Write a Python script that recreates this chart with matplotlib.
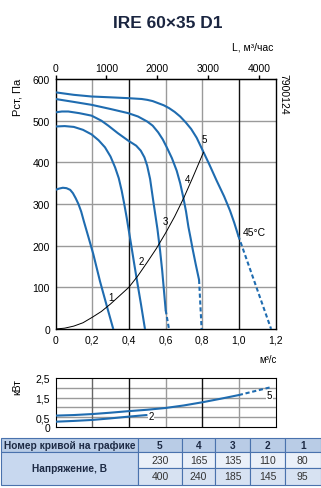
import numpy as np
import matplotlib
matplotlib.use("Agg")
import matplotlib.pyplot as plt
from matplotlib.patches import Rectangle

plt.rcParams['font.family'] = ['Liberation Sans', 'DejaVu Sans']

# pressure curves, x in m3/s, y in Pa
c1_x = [0, 0.02, 0.04, 0.06, 0.08, 0.095, 0.11, 0.125, 0.14, 0.155, 0.18, 0.206, 0.243, 0.28, 0.315]
c1_y = [334, 337, 339, 338, 334, 326, 314, 300, 282, 258, 220, 180, 114, 55, 0]
c2_x = [0, 0.05, 0.1, 0.15, 0.197, 0.235, 0.27, 0.30, 0.325, 0.345, 0.361, 0.375, 0.388, 0.40,
        0.412, 0.428, 0.443, 0.466, 0.488]
c2_y = [486, 487, 485, 478, 467, 453, 436, 414, 388, 362, 332, 300, 268, 236, 204, 160, 120, 60, 0]
c3_x = [0, 0.035, 0.07, 0.13, 0.197, 0.25, 0.288, 0.34, 0.397, 0.44, 0.465, 0.485, 0.50, 0.516,
        0.534, 0.556, 0.570, 0.582, 0.592, 0.601]
c3_y = [520, 522, 522, 518, 512, 500, 488, 470, 452, 440, 428, 412, 392, 360, 305, 240, 190, 140,
        90, 45]
c3_dash_x = [0.601, 0.619]
c3_dash_y = [45, 0]
c4_x = [0, 0.1, 0.197, 0.3, 0.397, 0.45, 0.5, 0.53, 0.56, 0.585, 0.607, 0.635, 0.661, 0.68,
        0.697, 0.712, 0.725, 0.737, 0.748, 0.765, 0.783]
c4_y = [552, 545, 538, 528, 518, 510, 498, 488, 472, 455, 436, 410, 380, 350, 316, 282, 245, 218,
        192, 155, 118]
c4_dash_x = [0.783, 0.797]
c4_dash_y = [118, 0]
c5_x = [0, 0.1, 0.197, 0.3, 0.397, 0.47, 0.5, 0.53, 0.56, 0.59, 0.62, 0.65, 0.68, 0.71, 0.74,
        0.77, 0.797, 0.84, 0.879, 0.92, 0.952, 0.975, 0.997]
c5_y = [568, 562, 558, 556, 554, 552, 550, 547, 542, 537, 530, 521, 510, 496, 480, 459, 434, 394,
        356, 318, 284, 255, 224]
c5_dash_x = [0.997, 1.176]
c5_dash_y = [224, 0]

# network curve
net_x = [0, 0.05, 0.1, 0.15, 0.2, 0.25, 0.3, 0.35, 0.4, 0.45, 0.5, 0.55, 0.6, 0.65, 0.7, 0.75, 0.807]
net_y = [0, 2, 7, 15, 28, 42, 60, 80, 100, 128, 160, 193, 230, 270, 315, 365, 424]

curve_labels = ['1', '2', '3', '4', '5']
label_x = [0.303, 0.47, 0.597, 0.719, 0.81]
label_y = [76, 162, 260, 360, 456]

# power curves, kW
p5_x = [0, 0.1, 0.2, 0.3, 0.4, 0.5, 0.6, 0.7, 0.8, 0.9, 1.0]
p5_y = [0.58, 0.61, 0.66, 0.73, 0.81, 0.88, 0.97, 1.1, 1.26, 1.44, 1.63]
p5_dash_x = [1.0, 1.17]
p5_dash_y = [1.63, 2.02]
p2_x = [0, 0.1, 0.2, 0.3, 0.4, 0.497]
p2_y = [0.27, 0.31, 0.36, 0.44, 0.53, 0.61]

# table
curve_numbers = ['5', '4', '3', '2', '1']
voltage_1 = ['230', '165', '135', '110', '80']
voltage_2 = ['400', '240', '185', '145', '95']

blue = '#1f6cb0'
W, H = 321, 489
fig = plt.figure(figsize=(W / 100, H / 100), dpi=100)


def fr(px_left, py_top, px_right, py_bottom):
    return [px_left / W, 1 - py_bottom / H, (px_right - px_left) / W, (py_bottom - py_top) / H]


# ---- main chart
ax = fig.add_axes(fr(55.5, 80, 275.5, 330))
ax.set_xlim(0, 1.2)
ax.set_ylim(0, 600)
for y in [100, 200, 300, 400, 500]:
    ax.axhline(y, color='#9a9a9a', lw=1.0, zorder=1)
for x, c in [(0.2, '#9a9a9a'), (0.4, '#111111'), (0.6, '#9a9a9a'), (0.8, '#9a9a9a'), (1.0, '#111111')]:
    ax.axvline(x, color=c, lw=1.0, zorder=1)

kw = dict(color=blue, lw=1.5, solid_capstyle='round', solid_joinstyle='round', zorder=3)
ax.plot(c1_x, c1_y, **kw)
ax.plot(c2_x, c2_y, **kw)
ax.plot(c3_x, c3_y, **kw)
ax.plot(c4_x, c4_y, **kw)
ax.plot(c5_x, c5_y, **kw)
dkw = dict(color=blue, lw=1.5, ls=(0, (2, 1.3)), zorder=3)
ax.plot(c3_dash_x, c3_dash_y, **dkw)
ax.plot(c4_dash_x, c4_dash_y, **dkw)
ax.plot(c5_dash_x, c5_dash_y, **dkw)
ax.plot(net_x, net_y, color='black', lw=0.7, zorder=4)
for t, x, y in zip(curve_labels, label_x, label_y):
    ax.text(x, y, t, fontsize=7, ha='center', va='center', zorder=5)
ax.text(1.083, 232, '45°C', fontsize=7.5, ha='center', va='center')

ax.set_xticks([0, 0.2, 0.4, 0.6, 0.8, 1.0, 1.2])
ax.set_xticklabels(['0', '0,2', '0,4', '0,6', '0,8', '1,0', '1,2'])
ax.set_yticks([0, 100, 200, 300, 400, 500, 600])
ax.tick_params(length=0, labelsize=7.5, pad=4)
for s in ax.spines.values():
    s.set_linewidth(1.0)

top = ax.secondary_xaxis('top', functions=(lambda q: q * 3600, lambda l: l / 3600))
top.set_xticks([0, 1000, 2000, 3000, 4000])
top.tick_params(length=3, width=1, labelsize=7.5, pad=1, direction='out')

fig.text(17 / W, 1 - 97 / H, 'Рст, Па', rotation=90, fontsize=8, ha='center', va='center')
fig.text(253 / W, 1 - 48 / H, 'L, м³/час', fontsize=7.5, ha='center', va='center')
fig.text(268 / W, 1 - 360 / H, 'м³/с', fontsize=7, ha='center', va='center')
fig.text(283 / W, 1 - 94 / H, '7900124', rotation=-90, fontsize=7.5, ha='center', va='center')
fig.text(167.5 / W, 1 - 23 / H, 'IRE 60×35 D1', fontsize=12.5, fontweight='bold',
         color='#1a2540', ha='center', va='center')

# ---- power chart
axp = fig.add_axes(fr(55.5, 379, 275.5, 428))
axp.set_xlim(0, 1.2)
axp.set_ylim(0, 2.5)
for y in [0.5, 1.0, 1.5, 2.0]:
    axp.axhline(y, color='#9a9a9a', lw=1.0, zorder=1)
for x, c in [(0.2, '#666666'), (0.4, '#111111'), (0.6, '#9a9a9a'), (0.8, '#111111'), (1.0, '#9a9a9a')]:
    axp.axvline(x, color=c, lw=1.0, zorder=1)
axp.plot(p5_x, p5_y, **kw)
axp.plot(p5_dash_x, p5_dash_y, **dkw)
axp.plot(p2_x, p2_y, **kw)
axp.text(0.52, 0.55, '2', fontsize=7, ha='center', va='center', zorder=5,
         bbox=dict(fc='white', ec='none', pad=0.3))
axp.text(1.167, 1.63, '5', fontsize=7, ha='center', va='center', zorder=5,
         bbox=dict(fc='white', ec='none', pad=0.3))
axp.set_xticks([])
axp.set_yticks([0, 0.5, 1.5, 2.5])
axp.set_yticklabels(['0', '0,5', '1,5', '2,5'])
axp.tick_params(length=0, labelsize=7.5, pad=4)
fig.text(17 / W, 1 - 387 / H, 'кВт', rotation=90, fontsize=7.5, ha='center', va='center')

# ---- table
axt = fig.add_axes(fr(0, 438, W, 488))
axt.set_xlim(0, W)
axt.set_ylim(488, 438)
axt.axis('off')
cols = [0.5, 138, 182, 215, 250, 285, 320.5]
rows = [439, 453, 469, 486]
head_bg, lab_bg, r1_bg, r2_bg = '#b9cce6', '#c8d8ef', '#eaf0f9', '#d7e2f2'
edge = '#4a72ad'
txt = '#1d2a44'

axt.add_patch(Rectangle((cols[0], rows[0]), cols[1] - cols[0], rows[1] - rows[0], fc=head_bg, ec=edge, lw=0.8))
axt.text((cols[0] + cols[1]) / 2, (rows[0] + rows[1]) / 2, 'Номер кривой на графике',
         fontsize=7.3, fontweight='bold', color=txt, ha='center', va='center')
axt.add_patch(Rectangle((cols[0], rows[1]), cols[1] - cols[0], rows[3] - rows[1], fc=lab_bg, ec=edge, lw=0.8))
axt.text((cols[0] + cols[1]) / 2, (rows[1] + rows[3]) / 2, 'Напряжение, В',
         fontsize=7.3, fontweight='bold', color=txt, ha='center', va='center')
for i, (n, v1, v2) in enumerate(zip(curve_numbers, voltage_1, voltage_2)):
    x0, x1 = cols[i + 1], cols[i + 2]
    xc = (x0 + x1) / 2
    axt.add_patch(Rectangle((x0, rows[0]), x1 - x0, rows[1] - rows[0], fc=head_bg, ec=edge, lw=0.8))
    axt.text(xc, (rows[0] + rows[1]) / 2, n, fontsize=7.3, fontweight='bold', color=txt, ha='center', va='center')
    axt.add_patch(Rectangle((x0, rows[1]), x1 - x0, rows[2] - rows[1], fc=r1_bg, ec=edge, lw=0.8))
    axt.text(xc, (rows[1] + rows[2]) / 2, v1, fontsize=7.5, color='#333333', ha='center', va='center')
    axt.add_patch(Rectangle((x0, rows[2]), x1 - x0, rows[3] - rows[2], fc=r2_bg, ec=edge, lw=0.8))
    axt.text(xc, (rows[2] + rows[3]) / 2, v2, fontsize=7.5, color='#333333', ha='center', va='center')

fig.savefig('out.png', dpi=100)
